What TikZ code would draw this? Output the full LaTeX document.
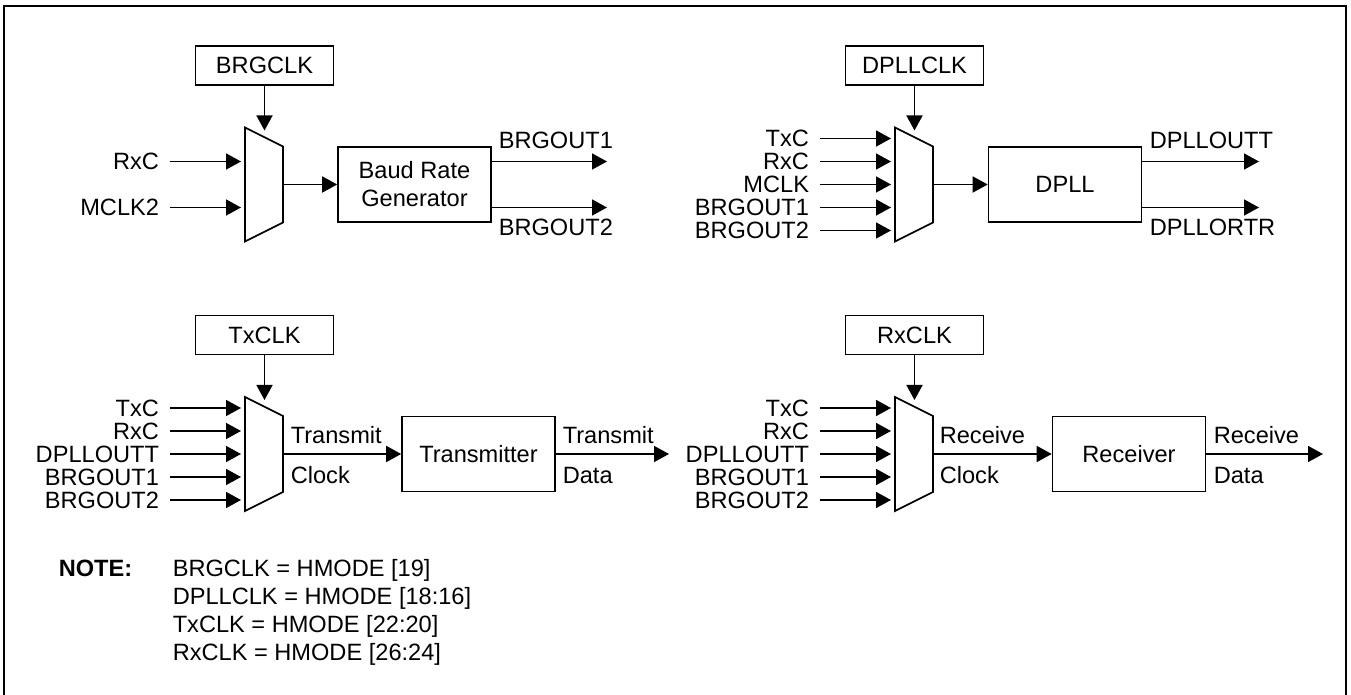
\documentclass[tikz,border=0pt]{standalone}
\usepackage{fontspec}
\setmainfont{Liberation Sans}
\usetikzlibrary{arrows.meta}

\begin{document}
\begin{tikzpicture}[
    x=0.5pt,
    y=-0.5pt,
    font=\fontsize{11.8}{14}\selectfont,
    line width=0.8pt,
    >={Triangle[length=7.5pt,width=8pt]},
    selbox/.style={draw, minimum width=69pt, minimum height=19.5pt, inner sep=0pt},
    unitbox/.style={draw, minimum width=76.5pt, minimum height=37.5pt, inner sep=0pt, align=center},
    inlbl/.style={anchor=east, inner sep=0pt, outer xsep=5.5pt},
    lbl/.style={anchor=base west, inner sep=0pt}
]
\useasboundingbox (0,0) rectangle (1351,695);
\draw[line width=1.4pt] (4,700) -- (4,6) -- (1346,6) -- (1346,700);

% selectors
\foreach \mx/\my/\nm in {245/184.5/muxA, 895/184.5/muxB, 245/454/muxC, 895/454/muxD}{
  \draw (\mx,\my-57) -- (\mx+38,\my-38) -- (\mx+38,\my+38) -- (\mx,\my+57) -- cycle;
  \coordinate (\nm-top) at (\mx+19.5,\my-54);
  \coordinate (\nm-out) at (\mx+38,\my);
}

\node[selbox] (brgclk) at (264.5,65.5) {BRGCLK};
\node[selbox] (dpllclk) at (914.5,65.5) {DPLLCLK};
\node[selbox] (txclk) at (264.5,335) {TxCLK};
\node[selbox] (rxclk) at (914.5,335) {RxCLK};
\draw[->] (brgclk) -- (muxA-top);
\draw[->] (dpllclk) -- (muxB-top);
\draw[->] (txclk) -- (muxC-top);
\draw[->] (rxclk) -- (muxD-top);

% clock sources
\foreach \lab [count=\i] in {RxC, MCLK2}{
  \node[inlbl] (inA\i) at (170,{115.5+46*\i}) {\lab};
  \coordinate (muxA-in\i) at (241,{115.5+46*\i});
  \draw[->] (inA\i) -- (muxA-in\i);
}
\foreach \lab [count=\i] in {TxC, RxC, MCLK, BRGOUT1, BRGOUT2}{
  \node[inlbl] (inB\i) at (820,{115.5+23*\i}) {\lab};
  \coordinate (muxB-in\i) at (891,{115.5+23*\i});
  \draw[->] (inB\i) -- (muxB-in\i);
}
\foreach \gx/\nm in {0/C, 650/D}{
  \foreach \lab [count=\i] in {TxC, RxC, DPLLOUTT, BRGOUT1, BRGOUT2}{
    \node[inlbl] (in\nm\i) at ({170+\gx},{385+23*\i}) {\lab};
    \coordinate (mux\nm-in\i) at ({241+\gx},{385+23*\i});
    \draw[->] (in\nm\i) -- (mux\nm-in\i);
  }
}

% blocks
\node[unitbox] (brg) at (414.5,184.5) {Baud Rate\\Generator};
\node[unitbox] (dpll) at (1065,184.5) {DPLL};
\node[unitbox] (txr) at (478.5,454) {Transmitter};
\node[unitbox] (rxr) at (1129,454) {Receiver};
\draw[->] (muxA-out) -- (brg);
\draw[->] (muxB-out) -- (dpll);
\draw[->] (muxC-out) -- (txr);
\draw[->] (muxD-out) -- (rxr);

% outputs
\coordinate (brgout1) at (607,161.5);
\coordinate (brgout2) at (607,207.5);
\coordinate (dpllout1) at (1259,161.5);
\coordinate (dpllout2) at (1259,207.5);
\coordinate (txdata) at (669,454);
\coordinate (rxdata) at (1323,454);
\draw[->] (brg.east |- brgout1) -- (brgout1);
\draw[->] (brg.east |- brgout2) -- (brgout2);
\draw[->] (dpll.east |- dpllout1) -- (dpllout1);
\draw[->] (dpll.east |- dpllout2) -- (dpllout2);
\draw[->] (txr) -- (txdata);
\draw[->] (rxr) -- (rxdata);

\node[lbl] (brgout1-lbl) at (498,149) {BRGOUT1};
\node[lbl] (brgout2-lbl) at (498,236) {BRGOUT2};
\node[lbl] (dpllout1-lbl) at (1149,149) {DPLLOUTT};
\node[lbl] (dpllout2-lbl) at (1149,236) {DPLLORTR};
\node[lbl] (txclk-lbl1) at (290,443.5) {Transmit};
\node[lbl] (txclk-lbl2) at (290,483.5) {Clock};
\node[lbl] (txdata-lbl1) at (562,443.5) {Transmit};
\node[lbl] (txdata-lbl2) at (562,483.5) {Data};
\node[lbl] (rxclk-lbl1) at (939,443.5) {Receive};
\node[lbl] (rxclk-lbl2) at (939,483.5) {Clock};
\node[lbl] (rxdata-lbl1) at (1213,443.5) {Receive};
\node[lbl] (rxdata-lbl2) at (1213,483.5) {Data};

% note
\node[lbl, font=\fontsize{11.8}{14}\selectfont\bfseries] (note) at (58,576.5) {NOTE:};
\foreach \txt [count=\i] in {{BRGCLK = HMODE [19]}, {DPLLCLK = HMODE [18:16]},
                             {TxCLK = HMODE [22:20]}, {RxCLK = HMODE [26:24]}}{
  \node[lbl] (note\i) at (172,{548.5+28*\i}) {\txt};
}
\end{tikzpicture}
\end{document}
